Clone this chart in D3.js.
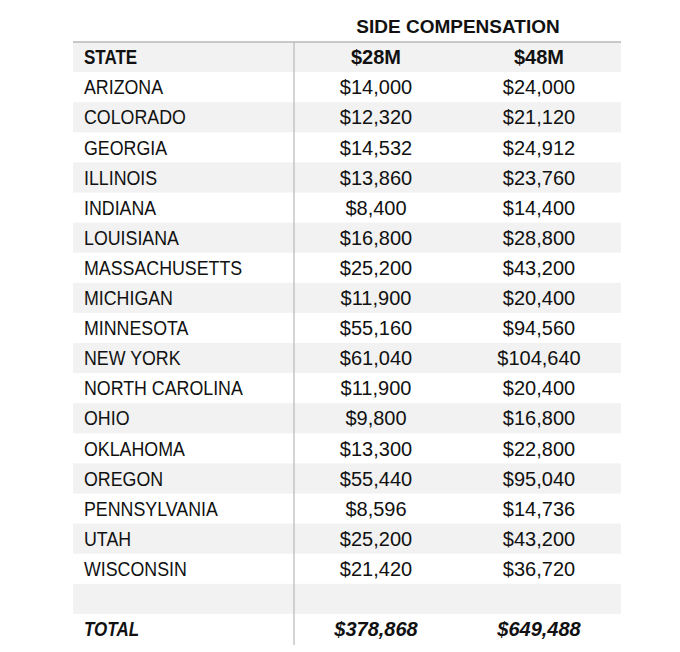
<!DOCTYPE html>
<html>
<head>
<meta charset="utf-8">
<script src="https://cdn.jsdelivr.net/npm/d3@7"></script>
<style>
  body { margin: 0; background: #fff; }
  text { font-family: "Liberation Sans", Arial, sans-serif; fill: #111; }
</style>
</head>
<body>
<svg id="chart" width="680" height="652"></svg>
<script>
// table data
const title = 'SIDE COMPENSATION';
const columns = ['STATE', '$28M', '$48M'];
const states = ['ARIZONA', 'COLORADO', 'GEORGIA', 'ILLINOIS', 'INDIANA', 'LOUISIANA',
  'MASSACHUSETTS', 'MICHIGAN', 'MINNESOTA', 'NEW YORK', 'NORTH CAROLINA', 'OHIO',
  'OKLAHOMA', 'OREGON', 'PENNSYLVANIA', 'UTAH', 'WISCONSIN'];
const comp28 = [14000, 12320, 14532, 13860, 8400, 16800, 25200, 11900, 55160, 61040,
  11900, 9800, 13300, 55440, 8596, 25200, 21420];
const comp48 = [24000, 21120, 24912, 23760, 14400, 28800, 43200, 20400, 94560, 104640,
  20400, 16800, 22800, 95040, 14736, 43200, 36720];
const totalLabel = 'TOTAL';
const totals = [378868, 649488];

const fmt = d3.format('$,');

// rows: header, states, blank spacer, total
const rows = [{ kind: 'header', cells: columns }]
  .concat(states.map((s, i) => ({ kind: 'body', cells: [s, fmt(comp28[i]), fmt(comp48[i])] })))
  .concat([{ kind: 'blank', cells: ['', '', ''] }])
  .concat([{ kind: 'total', cells: [totalLabel, fmt(totals[0]), fmt(totals[1])] }]);

const svg = d3.select('#chart');
const tLeft = 73, tRight = 621, tTop = 42, rowH = 30.1;
const divX = 294;

const y = d3.scaleLinear().domain([0, rows.length]).range([tTop, tTop + rows.length * rowH]);
const colX = [84, 376, 539];
const colAnchor = ['start', 'middle', 'middle'];

// striped backgrounds
svg.selectAll('rect.stripe')
  .data(rows.map((r, i) => i).filter(i => i % 2 === 0))
  .join('rect')
  .attr('class', 'stripe')
  .attr('x', tLeft)
  .attr('y', i => y(i))
  .attr('width', tRight - tLeft)
  .attr('height', rowH)
  .attr('fill', '#f2f2f2');

// title
svg.append('text')
  .attr('x', 458)
  .attr('y', 32.5)
  .attr('text-anchor', 'middle')
  .attr('font-size', 19)
  .attr('font-weight', 'bold')
  .text(title);

// top rule and divider
svg.append('line')
  .attr('x1', tLeft).attr('x2', tRight)
  .attr('y1', tTop).attr('y2', tTop)
  .attr('stroke', '#b8b8b8').attr('stroke-width', 1.5);
svg.append('line')
  .attr('x1', divX).attr('x2', divX)
  .attr('y1', tTop).attr('y2', 645)
  .attr('stroke', '#b8b8b8').attr('stroke-width', 1.2);

// cell text
const rowG = svg.selectAll('g.row')
  .data(rows)
  .join('g')
  .attr('class', 'row')
  .attr('transform', (d, i) => `translate(0,${y(i) + rowH / 2 + 7.2})`);

const isBold = k => k === 'header' || k === 'total';

rowG.selectAll('text')
  .data(d => d.cells.map((c, j) => ({ text: c, kind: d.kind, col: j })))
  .join('text')
  // the state column uses a narrower face in the original, so squeeze it
  .attr('transform', d => d.col === 0
    ? `translate(${colX[0]},0) scale(${isBold(d.kind) ? 0.85 : 0.89},1)`
    : `translate(${colX[d.col]},0)`)
  .attr('text-anchor', d => colAnchor[d.col])
  .attr('font-size', 20)
  .attr('font-weight', d => isBold(d.kind) ? 'bold' : 'normal')
  .attr('font-style', d => d.kind === 'total' ? 'italic' : 'normal')
  .text(d => d.text);
</script>
</body>
</html>
